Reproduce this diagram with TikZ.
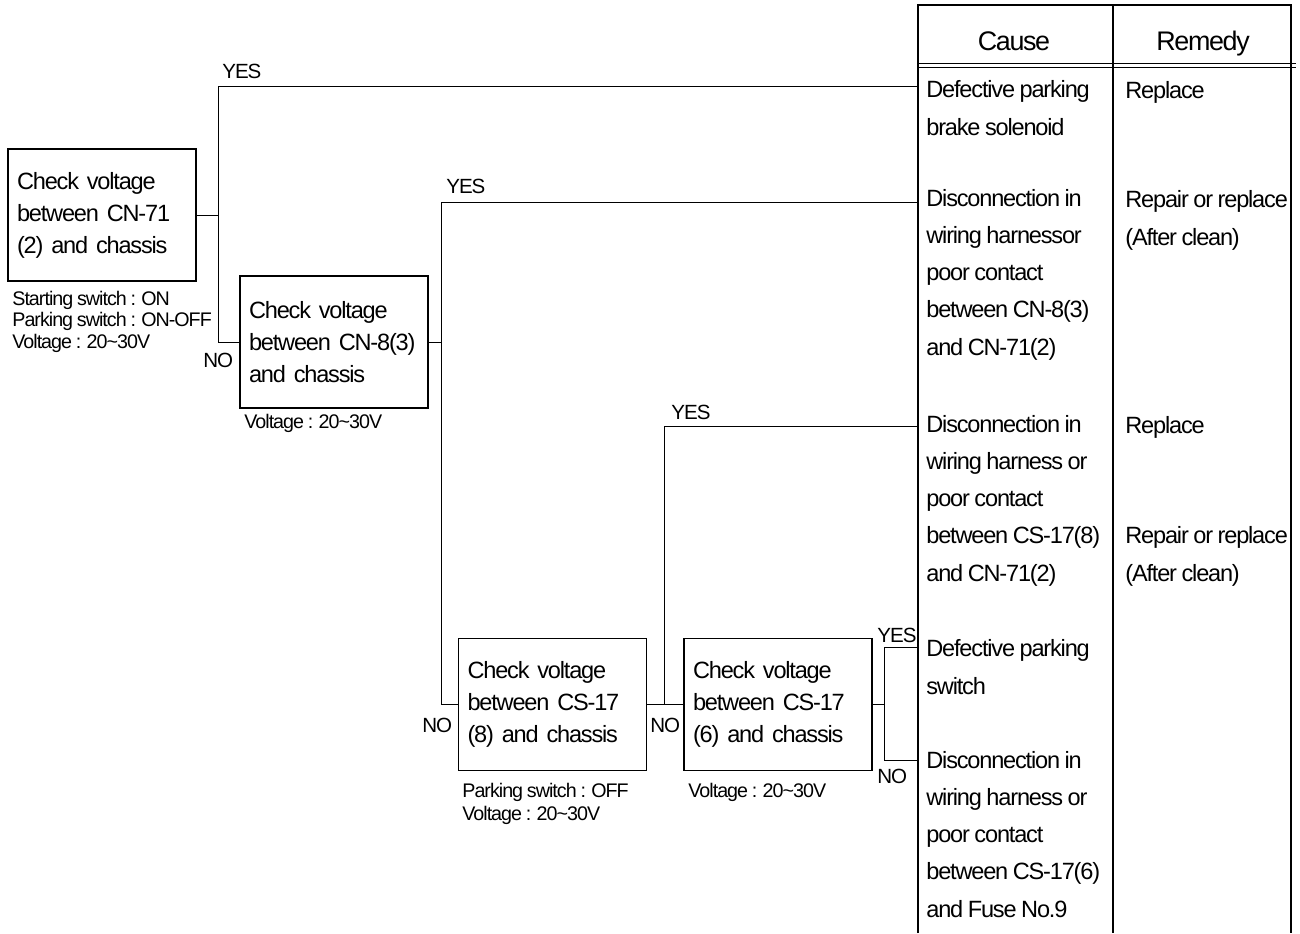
\documentclass[tikz,border=0pt]{standalone}
\usepackage{fontspec}
\setmainfont{Liberation Sans}[LetterSpace=-5.0,WordSpace=0.85]
\usetikzlibrary{calc}

\tikzset{
  checkbox/.style={draw,line width=0.7pt,minimum width=3.76cm,minimum height=2.64cm,
    text width=3.40cm,inner xsep=0.18cm,align=left,font=\fontsize{13.4}{18.2}\selectfont},
  note/.style={anchor=base west,inner sep=0pt,align=left,font=\fontsize{11.2}{12}\selectfont},
  lbl/.style={anchor=base west,inner sep=0pt,font=\fontsize{11.7}{14}\selectfont},
  cell/.style={anchor=base west,inner sep=0pt,align=left,font=\fontsize{13.4}{21.1}\selectfont},
  head/.style={anchor=base,inner sep=0pt,font=\fontsize{15.3}{18}\selectfont},
  wire/.style={line width=0.5pt},
  rule/.style={line width=0.7pt},
}

\begin{document}
\begin{tikzpicture}[x=0.02cm,y=-0.02cm]
  \useasboundingbox (0,0) rectangle (1300,933);

  % check boxes
  \node[checkbox] (b1) at (102,215) {Check voltage\\between CN-71\\(2) and chassis};
  \node[checkbox] (b2) at (334,342) {Check voltage\\between CN-8(3)\\and chassis};
  \node[checkbox] (b3) at (552.5,704.5) {Check voltage\\between CS-17\\(8) and chassis};
  \node[checkbox] (b4) at (778,704.5) {Check voltage\\between CS-17\\(6) and chassis};

  % conditions (anchored at the last line)
  \node[note] (n1) at (12,348) {Starting switch : ON\\Parking switch : ON-OFF\\Voltage : 20\textasciitilde30V};
  \node[note] (n2) at (244,428) {Voltage : 20\textasciitilde30V};
  \node[note,font=\fontsize{11.2}{13}\selectfont] (n3) at (462,820) {Parking switch : OFF\\Voltage : 20\textasciitilde30V};
  \node[note] (n4) at (688,797) {Voltage : 20\textasciitilde30V};

  % table
  \draw[rule] (918,933) -- (918,5) -- (1291,5) -- (1291,933);
  \draw[rule] (1113,5) -- (1113,933);
  \draw[wire] (918,63) -- (1296,63);
  \draw[wire] (918,67) -- (1296,67);
  \node[head] (hcause) at (1014,50) {Cause};
  \node[head] (hremedy) at (1203,50) {Remedy};

  \node[cell] (c1) at (926,135) {Defective parking\\brake solenoid};
  \node[cell] (c2) at (926,355) {Disconnection in\\wiring harnessor\\poor contact\\between CN-8(3)\\and CN-71(2)};
  \node[cell] (c3) at (926,581) {Disconnection in\\wiring harness or\\poor contact\\between CS-17(8)\\and CN-71(2)};
  \node[cell] (c4) at (926,694) {Defective parking\\switch};
  \node[cell] (c5) at (926,917) {Disconnection in\\wiring harness or\\poor contact\\between CS-17(6)\\and Fuse No.9};

  \node[cell] (m1) at (1125,98) {Replace};
  \node[cell] (m2) at (1125,245) {Repair or replace\\(After clean)};
  \node[cell] (m3) at (1125,433) {Replace};
  \node[cell] (m4) at (1125,581) {Repair or replace\\(After clean)};

  % entry points and junctions
  \coordinate (r1) at (918,86);
  \coordinate (r2) at (918,202);
  \coordinate (r3) at (918,426);
  \coordinate (r4) at (918,647);
  \coordinate (r5) at (918,760);
  \coordinate (j1) at (218,0);
  \coordinate (j2) at (441,0);
  \coordinate (j3) at (664,0);
  \coordinate (j4) at (884,0);

  % connectors
  \draw[wire] (b1.east) -- (b1.east -| j1);
  \draw[wire] (r1) -| (j1 |- b2.west) -- (b2.west);
  \draw[wire] (b2.east) -- (b2.east -| j2);
  \draw[wire] (r2) -| (j2 |- b3.west) -- (b3.west);
  \draw[wire] (b3.east) -- (b4.west);
  \draw[wire] (r3) -| (j3 |- b3.east);
  \draw[wire] (b4.east) -- (b4.east -| j4);
  \draw[wire] (r4) -| (j4 |- r5) -- (r5);

  % branch labels
  \node[lbl] (yes1) at (222,78) {YES};
  \node[lbl] (no1) at (203,367) {NO};
  \node[lbl] (yes2) at (446,193) {YES};
  \node[lbl] (no2) at (422,732) {NO};
  \node[lbl] (yes3) at (671,419) {YES};
  \node[lbl] (no3) at (650,732) {NO};
  \node[lbl] (yes4) at (877,642) {YES};
  \node[lbl] (no4) at (877,783) {NO};
\end{tikzpicture}
\end{document}
